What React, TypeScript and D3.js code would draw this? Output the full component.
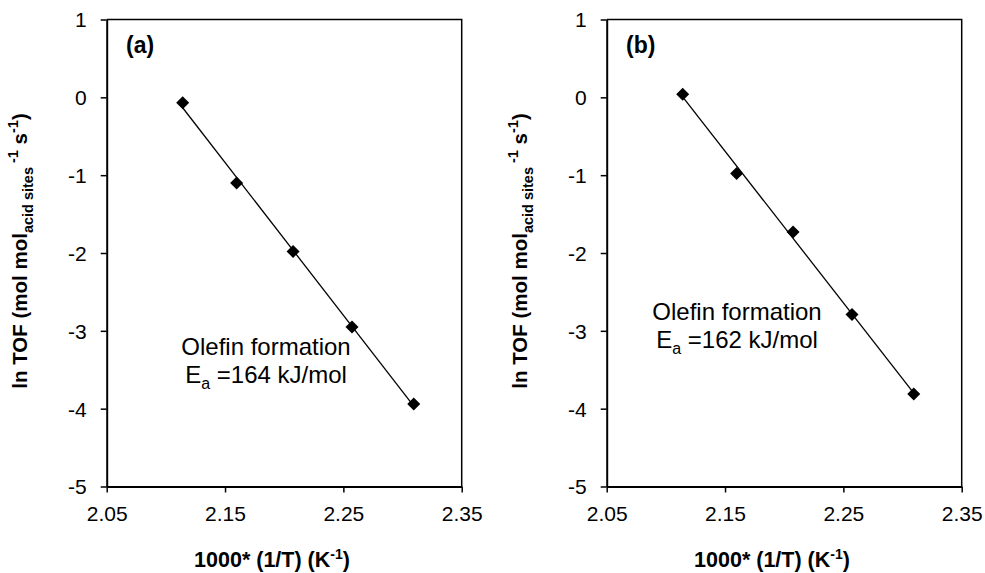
import React, { useEffect, useRef } from 'react';
import * as d3 from 'd3';

// 1000/T for 473, 463, 453, 443, 433 K
const invT = [2.1142, 2.1598, 2.2075, 2.2573, 2.3095];
const lnTofA = [-0.07, -1.1, -1.98, -2.95, -3.94];
const lnTofB = [0.04, -0.98, -1.73, -2.79, -3.81];
const xTicks = [2.05, 2.15, 2.25, 2.35];
const yTicks = [-5, -4, -3, -2, -1, 0, 1];
const panelLabels = ['(a)', '(b)'];
const eaValues = ['164', '162'];

const FONT = '"Liberation Sans", Arial, sans-serif';

const drawPanel = (root, opts) => {
  const { ox, ys, label, ea, notePos } = opts;
  const x = d3.scaleLinear().domain([2.05, 2.35]).range([ox + 106.7, ox + 461.7]);
  const y = d3.scaleLinear().domain([-5, 1]).range([486.5, 19.5]);

  const g = root.append('g');

  // plot border (top + right)
  g.append('path')
    .attr('d', `M${x(2.05)},${y(1)}H${x(2.35)}V${y(-5)}`)
    .attr('fill', 'none').attr('stroke', '#000').attr('stroke-width', 1.5);

  // x axis
  const xa = g.append('g')
    .attr('transform', `translate(0,${y(-5)})`)
    .call(d3.axisBottom(x).tickValues(xTicks).tickSize(6).tickSizeOuter(0).tickFormat(d3.format('.2f')));
  xa.select('.domain').attr('stroke-width', 2);
  xa.selectAll('line').attr('stroke-width', 1.5);
  xa.selectAll('text').attr('font-family', FONT).attr('font-size', 21).attr('fill', '#000')
    .attr('y', 34).attr('dy', 0);

  // y axis
  const ya = g.append('g')
    .attr('transform', `translate(${x(2.05)},0)`)
    .call(d3.axisLeft(y).tickValues(yTicks).tickSize(6).tickSizeOuter(0).tickFormat(d => String(d)));
  ya.select('.domain').attr('stroke-width', 2);
  ya.selectAll('line').attr('stroke-width', 1.5);
  ya.selectAll('text').attr('font-family', FONT).attr('font-size', 21).attr('fill', '#000')
    .attr('x', -20).attr('dy', '0.35em');

  // linear fit trendline
  const pts = invT.map((v, i) => [v, ys[i]]);
  const mx = d3.mean(invT), my = d3.mean(ys);
  const slope = d3.sum(pts, p => (p[0] - mx) * (p[1] - my)) / d3.sum(pts, p => (p[0] - mx) ** 2);
  const icpt = my - slope * mx;
  const x0 = d3.min(invT), x1 = d3.max(invT);
  g.append('line')
    .attr('x1', x(x0)).attr('y1', y(icpt + slope * x0))
    .attr('x2', x(x1)).attr('y2', y(icpt + slope * x1))
    .attr('stroke', '#000').attr('stroke-width', 1.3);

  // diamond markers
  g.selectAll('path.pt').data(pts).enter().append('path')
    .attr('class', 'pt')
    .attr('d', 'M0,-6.5L6.5,0L0,6.5L-6.5,0Z')
    .attr('transform', d => `translate(${x(d[0])},${y(d[1])})`)
    .attr('fill', '#000');

  // panel label
  g.append('text').attr('x', ox + 126).attr('y', 53)
    .attr('font-family', FONT).attr('font-size', 23).attr('font-weight', 'bold')
    .text(label);

  // annotation
  const note = g.append('text').attr('font-family', FONT).attr('font-size', 24)
    .attr('text-anchor', 'middle');
  note.append('tspan').attr('x', notePos[0]).attr('y', notePos[1]).text('Olefin formation');
  const l2 = note.append('tspan').attr('x', notePos[0]).attr('y', notePos[1] + 28);
  l2.text('E');
  note.append('tspan').attr('font-size', 16).attr('dy', 6).text('a');
  note.append('tspan').attr('dy', -6).text(` =${ea} kJ/mol`);

  // x title
  const xt = g.append('text').attr('x', ox + 272).attr('y', 567)
    .attr('font-family', FONT).attr('font-size', 21.5).attr('font-weight', 'bold')
    .attr('text-anchor', 'middle');
  xt.append('tspan').text('1000* (1/T) (K');
  xt.append('tspan').attr('font-size', 14).attr('dy', -8).text('-1');
  xt.append('tspan').attr('dy', 8).text(')');

  // y title
  const yt = g.append('text')
    .attr('transform', `translate(${ox + 27},251) rotate(-90)`)
    .attr('font-family', FONT).attr('font-size', 20.5).attr('font-weight', 'bold')
    .attr('text-anchor', 'middle');
  yt.append('tspan').text('ln TOF (mol mol');
  yt.append('tspan').attr('font-size', 14.5).attr('dy', 6).text('acid sites');
  yt.append('tspan').attr('font-size', 14.5).attr('dy', -15).text(' -1');
  yt.append('tspan').attr('dy', 9).text(' s');
  yt.append('tspan').attr('font-size', 14.5).attr('dy', -9).text('-1');
  yt.append('tspan').attr('dy', 9).text(')');
};

const App = () => {
  const ref = useRef(null);
  useEffect(() => {
    const svg = d3.select(ref.current);
    svg.selectAll('*').remove();
    drawPanel(svg, { ox: 0, ys: lnTofA, label: panelLabels[0], ea: eaValues[0], notePos: [266, 355] });
    drawPanel(svg, { ox: 500, ys: lnTofB, label: panelLabels[1], ea: eaValues[1], notePos: [737, 320] });
  }, []);
  return (
    <svg ref={ref} width={985} height={573}
      style={{ position: 'absolute', left: 0, top: 0, background: '#fff' }} />
  );
};

export default App;
